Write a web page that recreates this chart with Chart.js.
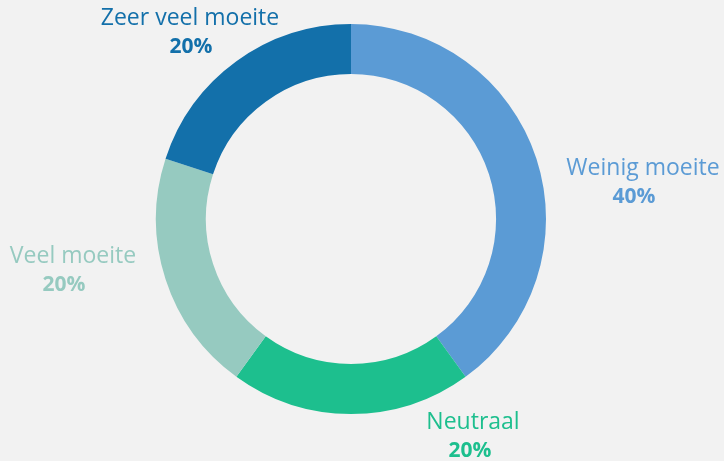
<!DOCTYPE html>
<html>
<head>
<meta charset="utf-8">
<script src="https://cdn.jsdelivr.net/npm/chart.js@4"></script>
<style>
  html, body { margin: 0; padding: 0; background: #f2f2f2; }
  #wrap { width: 724px; height: 461px; }
</style>
</head>
<body>
<div id="wrap"><canvas id="donut"></canvas></div>
<script>
const categories = ['Weinig moeite', 'Neutraal', 'Veel moeite', 'Zeer veel moeite']
const percentages = [40, 20, 20, 20]
const colors = ['#5b9bd5', '#1dbf8e', '#96cac0', '#1370aa']

// label offsets from the doughnut centre: name x, name y, percent x shift
const labelOffsets = [[292, -51, -9], [122, 203, -3], [-278, 37, -9], [-161, -201, 1]]

const bgPlugin = {
    id: 'bg',
    beforeDraw(chart) {
        const ctx = chart.ctx
        ctx.save()
        ctx.fillStyle = '#f2f2f2'
        ctx.fillRect(0, 0, chart.width, chart.height)
        ctx.restore()
    }
}

const labelPlugin = {
    id: 'outerLabels',
    afterDraw(chart) {
        const ctx = chart.ctx
        const arc = chart.getDatasetMeta(0).data[0]
        ctx.save()
        ctx.textAlign = 'center'
        ctx.textBaseline = 'middle'
        for (let i = 0; i < categories.length; i++) {
            const x = arc.x + labelOffsets[i][0]
            const y = arc.y + labelOffsets[i][1]
            ctx.fillStyle = colors[i]
            ctx.font = '23px "Open Sans"'
            ctx.fillText(categories[i], x, y)
            ctx.font = 'bold 21px "Open Sans"'
            ctx.fillText(percentages[i] + '%', x + labelOffsets[i][2], y + 29)
        }
        ctx.restore()
    }
}

new Chart(document.getElementById('donut'), {
    type: 'doughnut',
    data: {
        labels: categories,
        datasets: [{
            data: percentages,
            backgroundColor: colors,
            borderWidth: 0
        }]
    },
    options: {
        responsive: true,
        maintainAspectRatio: false,
        animation: false,
        cutout: '74.4%',
        layout: { padding: { top: 24, bottom: 47, left: 156, right: 178 } },
        plugins: {
            legend: { display: false },
            tooltip: { enabled: false }
        }
    },
    plugins: [bgPlugin, labelPlugin]
})
</script>
</body>
</html>
